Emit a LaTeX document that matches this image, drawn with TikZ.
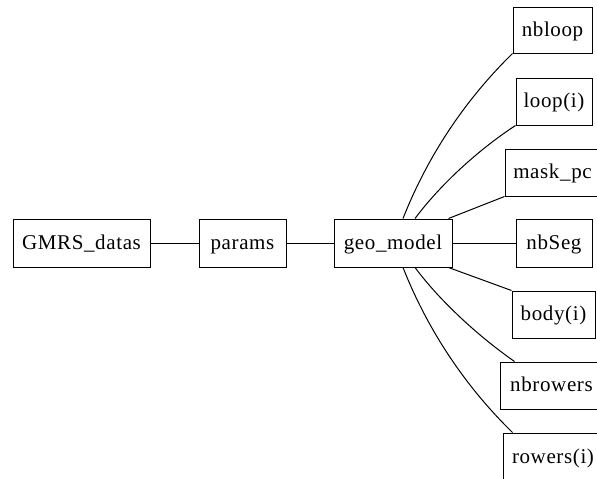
\documentclass[tikz,border=0pt]{standalone}
\usepackage{fontspec}
\setmainfont{Liberation Serif}[LetterSpace=3]
\begin{document}
\begin{tikzpicture}[x=1pt,y=-1pt,
  box/.style={draw,line width=1pt,inner sep=0pt,minimum height=47pt,
    text height=15pt,text depth=3pt,font=\fontsize{21}{24}\selectfont},
  link/.style={line width=1pt}]
\useasboundingbox (0,0) rectangle (597,479);
\clip (0,0) rectangle (597,479);
\node[box,minimum width=137pt,minimum height=48pt] (gmrs) at (81.5,243) {GMRS\_datas};
\node[box,minimum width=87pt,minimum height=48pt] (params) at (242.5,243) {params};
\node[box,minimum width=118pt,minimum height=48pt] (geo) at (393,243) {geo\_model};
\node[box,minimum width=79pt,minimum height=46pt] (nbloop) at (552.5,30) {nbloop};
\node[box,minimum width=76pt] (loop) at (554,101.5) {loop(i)};
\node[box,minimum width=95pt] (mask) at (552.5,172.5) {mask\_pc};
\node[box,minimum width=76pt,minimum height=48pt] (nbseg) at (554,243) {nbSeg};
\node[box,minimum width=83pt] (body) at (553.5,314.5) {body(i)};
\node[box,minimum width=100pt] (nbrowers) at (550,385.5) {\hspace*{3pt}nbrowers};
\node[box,minimum width=100pt,minimum height=48pt] (rowers) at (553,457) {rowers(i)};
\draw[link] (gmrs.east) -- (params.west);
\draw[link] (params.east) -- (geo.west);
\draw[link] (geo.east) -- (nbseg.west);
\draw[link] ([xshift=10pt]geo.north) .. controls (430,150) and (470,95) .. (nbloop.south west);
\draw[link] ([xshift=22pt]geo.north) .. controls (440,185) and (478,150) .. (loop.south west);
\draw[link] ([xshift=-4pt]geo.north east) -- (mask.south west);
\draw[link] ([xshift=-4pt]geo.south east) -- (body.north west);
\draw[link] ([xshift=22pt]geo.south) .. controls (440,301) and (478,336) .. ([xshift=15pt]nbrowers.north west);
\draw[link] ([xshift=10pt]geo.south) .. controls (430,336) and (470,391) .. ([xshift=10pt]rowers.north west);
\end{tikzpicture}
\end{document}
